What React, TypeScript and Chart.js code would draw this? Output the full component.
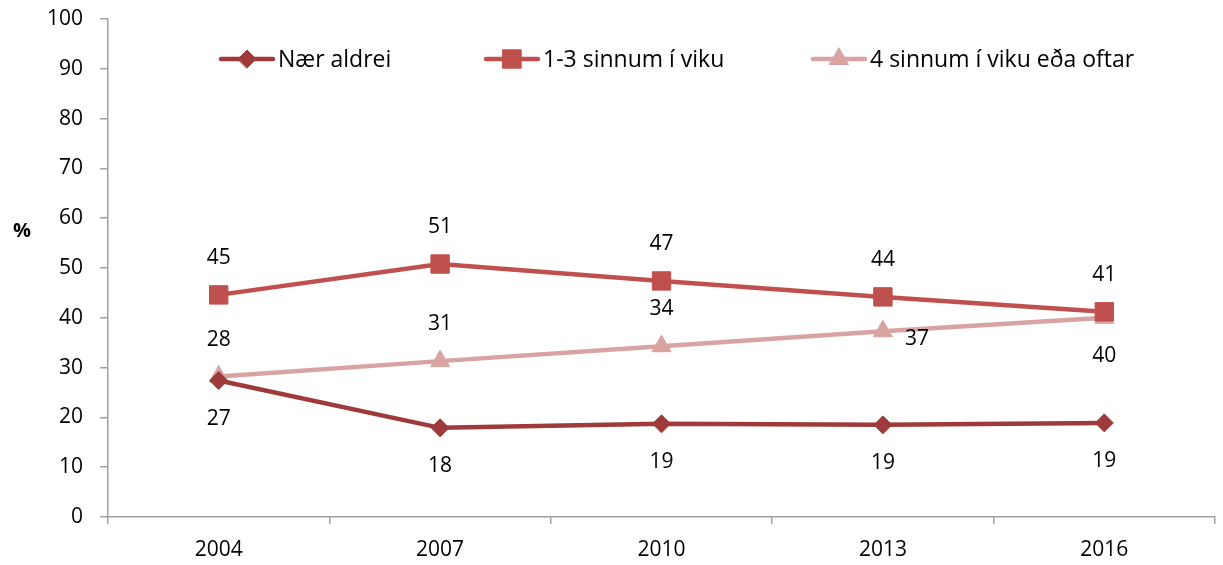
import React, { useEffect, useRef } from "react";
import { Chart, registerables } from "chart.js";
import { drawPoint } from "chart.js/helpers";

Chart.register(...registerables);

const years = ["2004", "2007", "2010", "2013", "2016"];
const naerAldrei = [27.4, 17.9, 18.7, 18.5, 18.9];
const einnTilThrir = [44.6, 50.8, 47.4, 44.2, 41.2];
const fjorirEdaOftar = [28.2, 31.3, 34.3, 37.3, 40.0];
const naerAldreiLabels = ["27", "18", "19", "19", "19"];
const einnTilThrirLabels = ["45", "51", "47", "44", "41"];
const fjorirLabels = ["28", "31", "34", "37", "40"];
const seriesNames = ["Nær aldrei", "1-3 sinnum í viku", "4 sinnum í viku eða oftar"];
const yTicks = [0, 10, 20, 30, 40, 50, 60, 70, 80, 90, 100];

const FONT = "'Open Sans', 'DejaVu Sans', sans-serif";
const C1 = "#9E3B3A";
const C2 = "#C0504D";
const C3 = "#D9A3A2";

const labelPlacement = [
  ["below", "below", "below", "below", "below"],
  ["above", "above", "above", "above", "above"],
  ["above", "above", "above", "right", "below"],
];
const allLabels = [naerAldreiLabels, einnTilThrirLabels, fjorirLabels];

const labelsPlugin = {
  id: "valueLabels",
  afterDatasetsDraw(chart: any) {
    const ctx = chart.ctx;
    ctx.save();
    ctx.font = `21px ${FONT}`;
    ctx.fillStyle = "#000";
    ctx.textAlign = "center";
    ctx.textBaseline = "middle";
    chart.data.datasets.forEach((ds: any, di: number) => {
      const meta = chart.getDatasetMeta(di);
      meta.data.forEach((pt: any, i: number) => {
        const pos = labelPlacement[di][i];
        let x = pt.x;
        let y = pt.y;
        if (pos === "above") y -= 37;
        else if (pos === "below") y += 38;
        else if (pos === "right") {
          x += 34;
          y += 8;
        }
        ctx.fillText(allLabels[di][i], x, y);
      });
    });
    ctx.restore();
  },
};

const legendPlugin = {
  id: "customLegend",
  afterDraw(chart: any) {
    const ctx = chart.ctx;
    const items = [
      { x: 219, ds: 0 },
      { x: 484, ds: 1 },
      { x: 811, ds: 2 },
    ];
    const y = 59;
    ctx.save();
    items.forEach((it) => {
      const ds = chart.data.datasets[it.ds];
      ctx.strokeStyle = ds.borderColor;
      ctx.lineWidth = 4.5;
      ctx.lineCap = "round";
      ctx.beginPath();
      ctx.moveTo(it.x + 2, y);
      ctx.lineTo(it.x + 54, y);
      ctx.stroke();
      ctx.fillStyle = ds.pointBackgroundColor;
      ctx.strokeStyle = ds.pointBorderColor;
      ctx.lineWidth = 1;
      drawPoint(ctx, { pointStyle: ds.pointStyle, radius: ds.pointRadius, borderWidth: 1, rotation: 0 }, it.x + 28, y);
      ctx.fillStyle = "#000";
      ctx.font = `23px ${FONT}`;
      ctx.textAlign = "left";
      ctx.textBaseline = "middle";
      ctx.fillText(ds.label, it.x + 59, y + 1);
    });
    ctx.font = `bold 20px ${FONT}`;
    ctx.textAlign = "center";
    ctx.fillText("%", 22, 231);
    ctx.restore();
  },
};

export default function App() {
  const ref = useRef<HTMLCanvasElement | null>(null);
  useEffect(() => {
    document.body.style.margin = "0";
    const mk = (label: string, data: number[], color: string, style: string, r: number) => ({
      label,
      data,
      borderColor: color,
      backgroundColor: color,
      pointBackgroundColor: color,
      pointBorderColor: color,
      pointBorderWidth: 1,
      pointStyle: style,
      pointRadius: r,
      borderWidth: 4.5,
      tension: 0,
    });
    const chart = new Chart(ref.current!, {
      type: "line",
      data: {
        labels: years,
        datasets: [
          mk(seriesNames[0], naerAldrei, C1, "rectRot", 9),
          mk(seriesNames[1], einnTilThrir, C2, "rect", 13),
          mk(seriesNames[2], fjorirEdaOftar, C3, "triangle", 11),
        ],
      },
      options: {
        animation: false,
        responsive: false,
        maintainAspectRatio: false,
        layout: { autoPadding: false, padding: { top: 19, right: 8, left: 0, bottom: 0 } },
        plugins: { legend: { display: false }, tooltip: { enabled: false } },
        scales: {
          x: {
            offset: true,
            grid: {
              offset: true,
              drawOnChartArea: false,
              drawTicks: true,
              tickLength: 7,
              color: "#A0A0A0",
              lineWidth: 1.5,
            },
            border: { color: "#A0A0A0", width: 1.5 },
            ticks: { color: "#000", font: { family: FONT, size: 21 }, padding: 13, maxRotation: 0 },
            afterFit: (s: any) => {
              s.height = 48;
              s.paddingLeft = 0;
              s.paddingRight = 0;
            },
          },
          y: {
            min: 0,
            max: 100,
            afterBuildTicks: (s: any) => {
              s.ticks = yTicks.map((v) => ({ value: v }));
            },
            grid: {
              drawOnChartArea: false,
              drawTicks: true,
              tickLength: 8,
              color: "#A0A0A0",
              lineWidth: 1.5,
            },
            border: { color: "#A0A0A0", width: 1.5 },
            ticks: { color: "#000", font: { family: FONT, size: 21 }, padding: 17 },
            afterFit: (s: any) => {
              s.width = 108;
              s.paddingTop = 0;
              s.paddingBottom = 0;
            },
          },
        },
      },
      plugins: [labelsPlugin, legendPlugin],
    } as any);
    return () => chart.destroy();
  }, []);
  return (
    <div style={{ width: 1223, height: 565, overflow: "hidden" }}>
      <canvas ref={ref} width={1223} height={565} style={{ display: "block", width: 1223, height: 565 }} />
    </div>
  );
}
